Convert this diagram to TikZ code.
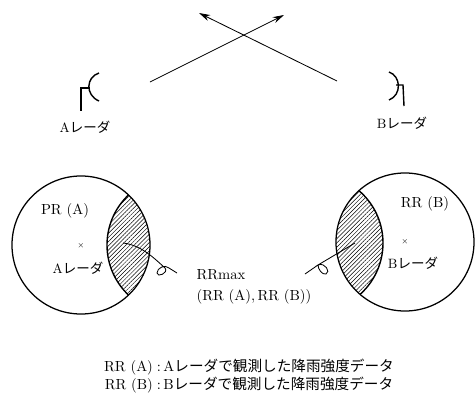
\documentclass[tikz,border=0pt]{standalone}
\usepackage{fontspec}
\usepackage{tikz}
\usetikzlibrary{arrows.meta, patterns.meta}
\newfontfamily\cjk{Noto Sans CJK JP}

\tikzset{
  rangecircle/.style={circle, draw, line width=0.9pt, minimum size=3.45cm, inner sep=0pt},
  label/.style={inner sep=0pt, font=\fontsize{10.4}{12}\selectfont},
  radarname/.style={inner sep=0pt, font=\fontsize{9.6}{12}\selectfont},
  small/.style={inner sep=0pt, font=\tiny},
  hatched/.style={line width=1pt, pattern={Lines[angle=45, distance=2.1pt, line width=0.35pt]}},
  beam/.style={line width=0.6pt, -{Stealth[length=8pt, width=4.5pt]}},
  dish/.style={line width=1pt}
}

\begin{document}
\begin{tikzpicture}[x=0.025cm, y=-0.025cm]
      \useasboundingbox (0,0) rectangle (475,396);

      % Crossing beams
      \coordinate (beamAs) at (150,82);
      \coordinate (beamAe) at (284,15);
      \coordinate (beamBs) at (337,81);
      \coordinate (beamBe) at (199,13);
      \draw[beam] (beamAs) -- (beamAe);
      \draw[beam] (beamBs) -- (beamBe);

      % Radar A
      \coordinate (dishA) at (90,88);
      \coordinate (postA) at (81,88);
      \coordinate (footA) at (81,111);
      \draw[dish] (99,73) .. controls (86,77) and (85,95) .. (99,101);
      \draw[dish] (dishA) -- (postA) -- (footA);
      \node[radarname] (nameA) at (85,127) {A{\cjk レーダ}};

      % Radar B
      \coordinate (dishB) at (396,85);
      \coordinate (postB) at (403,85);
      \coordinate (footB) at (404,106);
      \draw[dish] (389,72) .. controls (401,76) and (402,95) .. (389,100);
      \draw[dish] (dishB) -- (postB) -- (footB);
      \node[radarname] (nameB) at (402,123) {B{\cjk レーダ}};

      % Overlap of the two ranges
      \begin{scope}
        \clip (81,245) circle[radius=69];
        \draw[hatched] (176,245) circle[radius=69];
      \end{scope}
      \begin{scope}
        \clip (405,242) circle[radius=69];
        \draw[hatched] (314,243) circle[radius=69];
      \end{scope}

      % Range circles
      \node[rangecircle] (circA) at (81,245) {};
      \node[rangecircle] (circB) at (405,242) {};

      \node[label] (rrA) at (65,211) {PR (A)};
      \node[small] (crossA) at (81,246) {$\times$};
      \node[radarname] (radarA) at (78,268) {A{\cjk レーダ}};
      \node[label] (rrB) at (425,204) {RR (B)};
      \node[small] (crossB) at (405,242) {$\times$};
      \node[radarname] (radarB) at (413,263) {B{\cjk レーダ}};

      % Leader lines with a small loop
      \coordinate (hatchA) at (123,243);
      \coordinate (tailA) at (177,273);
      \coordinate (hatchB) at (355,243);
      \coordinate (tailB) at (305,274);
      \draw[line width=0.6pt] (hatchA) .. controls (140,245) and (152,256) .. (165,268)
        .. controls (169,273) and (157,278) .. (157,273)
        .. controls (157,268) and (165,264) .. (169,268) -- (tailA);
      \draw[line width=0.6pt] (hatchB) -- (318,265)
        .. controls (325,262) and (331,272) .. (326,274)
        .. controls (322,275) and (318,269) .. (318,265) -- (tailB);

      \node[label] (rrmax) at (221,275) {RRmax};
      \node[label] (rrpair) at (254,297) {(RR\,\,(A),\,RR\,\,(B))};

      % Legend
      \node[label] (legendA) at (249,367) {RR (A)\;:\,A{\cjk レーダで観測した降雨強度データ}};
      \node[label] (legendB) at (249,385) {RR (B)\;:\,B{\cjk レーダで観測した降雨強度データ}};
    \end{tikzpicture}
\end{document}
